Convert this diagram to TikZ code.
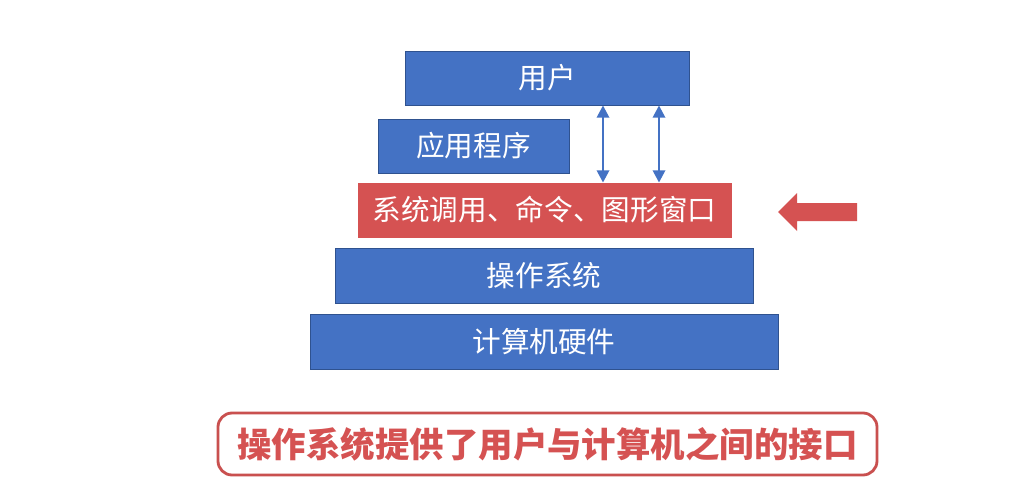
\documentclass[tikz,border=0pt]{standalone}
\usepackage{fontspec}
\usepackage{xcolor}
\usepackage{tikz}
\usetikzlibrary{arrows.meta}
\newfontfamily\cjk{Noto Sans CJK SC}
\definecolor{OSBlue}{HTML}{4472C4}
\definecolor{OSEdge}{HTML}{2F528F}
\definecolor{OSRed}{HTML}{D55252}
\definecolor{OSRedLine}{HTML}{C9504F}

\begin{document}
\begin{tikzpicture}[x=1cm,y=1cm,
  layer/.style={fill=OSBlue,draw=OSEdge,line width=.5pt,text=white,inner sep=0pt,
    minimum height=1.08cm,font=\cjk\fontsize{16.3}{18}\selectfont},
  link/.style={OSBlue,line width=1.4pt,{Triangle[width=7pt,length=7pt]}-{Triangle[width=7pt,length=7pt]}}]
\path[use as bounding box] (0,0) rectangle (20.26,9.86);
\fill[white] (0,0) rectangle (20.26,9.86);
\node[layer,minimum width=5.68cm] (user) at (10.94,8.30) {用户};
\node[layer,minimum width=3.82cm] (app) at (9.47,6.94) {应用程序};
\node[layer,minimum width=7.46cm,fill=OSRed,draw=OSRed] (iface) at (10.89,5.66) {系统调用、命令、图形窗口};
\node[layer,minimum width=8.36cm,minimum height=1.10cm] (os) at (10.88,4.35) {操作系统};
\node[layer,minimum width=9.36cm,minimum height=1.10cm] (hw) at (10.88,3.03) {计算机硬件};
% user <-> interface
\coordinate (linkA) at (12.06,0);
\coordinate (linkB) at (13.18,0);
\draw[link] (user.south -| linkA) -- (iface.north -| linkA);
\draw[link] (user.south -| linkB) -- (iface.north -| linkB);
% pointer
\fill[OSRed] (15.56,5.62) -- (15.94,6.00) -- (15.94,5.80) -- (17.14,5.80)
  -- (17.14,5.44) -- (15.94,5.44) -- (15.94,5.24) -- cycle;
\node[draw=OSRedLine,line width=1.6pt,rounded corners=8pt,minimum width=13.18cm,
  minimum height=1.24cm,inner sep=0pt,text=OSRed,
  font=\cjk\bfseries\fontsize{19.6}{22}\selectfont] (note) at (10.95,0.98)
  {操作系统提供了用户与计算机之间的接口};
\end{tikzpicture}
\end{document}
